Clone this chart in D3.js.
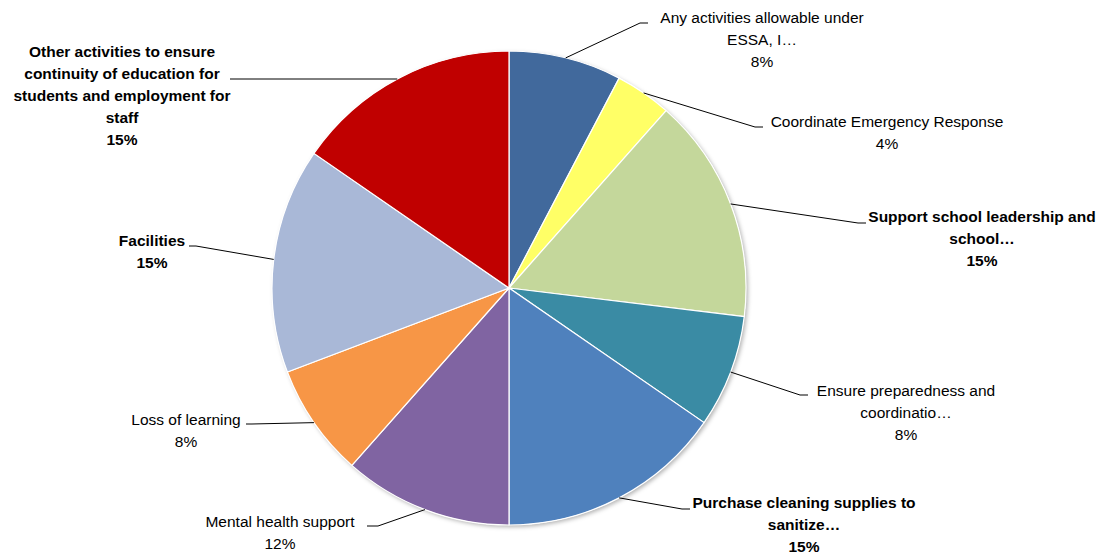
<!DOCTYPE html>
<html>
<head>
<meta charset="utf-8">
<script src="https://cdnjs.cloudflare.com/ajax/libs/d3/7.8.5/d3.min.js"></script>
<style>
    body { margin: 0; background: #fff; }
    text { font-family: "Liberation Sans", Arial, sans-serif; font-size: 15.5px; fill: #000; }
</style>
</head>
<body>
<div id="chart"></div>
<script>
// category names (as shown, truncated like the original) and counts
const categories = [
    "Any activities allowable under ESSA, I…",
    "Coordinate Emergency Response",
    "Support school leadership and school…",
    "Ensure preparedness and coordinatio…",
    "Purchase cleaning supplies to sanitize…",
    "Mental health support",
    "Loss of learning",
    "Facilities",
    "Other activities to ensure continuity of education for students and employment for staff"
];
const counts = [2, 1, 4, 2, 4, 3, 2, 4, 4];
const boldLabels = [false, false, true, false, true, false, false, true, true];
const sliceColors = ["#41699C", "#FFFF66", "#C4D79B", "#3A8BA4", "#4F81BD", "#8064A2", "#F79646", "#A9B8D7", "#C00000"];

// how each label is wrapped in the picture
const labelLines = [
    ["Any activities allowable under", "ESSA, I…"],
    ["Coordinate Emergency Response"],
    ["Support school leadership and", "school…"],
    ["Ensure preparedness and", "coordinatio…"],
    ["Purchase cleaning supplies to", "sanitize…"],
    ["Mental health support"],
    ["Loss of learning"],
    ["Facilities"],
    ["Other activities to ensure", "continuity of education for", "students and employment for", "staff"]
];

// label layout: text centre x, first baseline, elbow, end of the short horizontal tick
const labelLayout = [
    { cx: 762, by: 23,  ex: 640, ey: 23,  tx: 648 },
    { cx: 887, by: 127, ex: 755, ey: 127, tx: 763 },
    { cx: 982, by: 222, ex: 858, ey: 223, tx: 866 },
    { cx: 906, by: 396, ex: 800, ey: 395, tx: 808 },
    { cx: 804, by: 508, ex: 682, ey: 509, tx: 690 },
    { cx: 280, by: 527, ex: 378, ey: 526, tx: 367 },
    { cx: 186, by: 425, ex: 252, ey: 424, tx: 246 },
    { cx: 152, by: 246, ex: 196, ey: 246, tx: 189 },
    { cx: 122, by: 57,  ex: 240, ey: 79,  tx: 230 }
];

const width = 1104, height = 559;
const cx = 509, cy = 288, radius = 237;
const lineH = 22;

const svg = d3.select("#chart").append("svg")
    .attr("width", width)
    .attr("height", height);

const defs = svg.append("defs");
const shadow = defs.append("filter").attr("id", "shadow")
    .attr("x", "-10%").attr("y", "-10%").attr("width", "120%").attr("height", "120%");
shadow.append("feDropShadow")
    .attr("dx", 2).attr("dy", 2).attr("stdDeviation", 2)
    .attr("flood-color", "#000").attr("flood-opacity", 0.3);

const total = d3.sum(counts);
const pct = d3.format(".0%");

const pie = d3.pie().sort(null).value(d => d);
const arcs = pie(counts);
const arc = d3.arc().innerRadius(0).outerRadius(radius);

const g = svg.append("g").attr("transform", `translate(${cx},${cy})`);

g.append("circle").attr("r", radius).attr("fill", "#fff").attr("filter", "url(#shadow)");

g.selectAll("path.slice")
    .data(arcs)
    .join("path")
    .attr("class", "slice")
    .attr("d", arc)
    .attr("fill", (d, i) => sliceColors[i])
    .attr("stroke", "#fff")
    .attr("stroke-width", 1.2);

// leader lines start on the rim at the slice middle; the last one runs flat into the rim
const leaders = svg.append("g");
arcs.forEach((d, i) => {
    const L = labelLayout[i];
    let sx, sy;
    if (i === 8) {
        sy = L.ey;
        sx = cx - Math.sqrt(radius * radius - (L.ey - cy) ** 2);
    } else {
        const a = (d.startAngle + d.endAngle) / 2;
        sx = cx + radius * Math.sin(a);
        sy = cy - radius * Math.cos(a);
    }
    leaders.append("polyline")
        .attr("points", `${sx},${sy} ${L.ex},${L.ey} ${L.tx},${L.ey}`)
        .attr("fill", "none")
        .attr("stroke", "#000")
        .attr("stroke-width", 1);
});

const labels = svg.append("g");
arcs.forEach((d, i) => {
    const L = labelLayout[i];
    const lines = labelLines[i].concat([pct(counts[i] / total)]);
    const t = labels.append("text")
        .attr("text-anchor", "middle")
        .attr("font-weight", boldLabels[i] ? "bold" : "normal");
    lines.forEach((s, k) => {
        t.append("tspan")
            .attr("x", L.cx)
            .attr("y", L.by + k * lineH)
            .text(s);
    });
});
</script>
</body>
</html>
